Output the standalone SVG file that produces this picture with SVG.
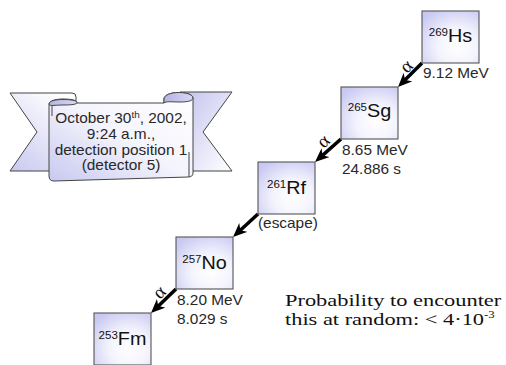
<svg xmlns="http://www.w3.org/2000/svg" width="506" height="365" viewBox="0 0 506 365">
<style>
.box{fill:url(#boxGrad);stroke:#555;stroke-width:1.1}
.nuc{font-family:"Liberation Sans",Arial,sans-serif;font-size:18px;fill:#111;text-anchor:middle}
.sup{font-size:10.5px}
.lbl{font-family:"Liberation Sans",Arial,sans-serif;font-size:14px;fill:#282828}
.bt{font-family:"Liberation Sans",Arial,sans-serif;font-size:14px;fill:#282828;text-anchor:middle}
.alpha{font-family:"Liberation Serif","Times New Roman",serif;font-size:19px;fill:#111;text-anchor:middle;dominant-baseline:central}
.prob{font-family:"Liberation Serif","Times New Roman",serif;font-size:17.5px;fill:#111}
.arr{stroke:#000;stroke-width:3.5;fill:none;marker-end:url(#ah)}
.edge{stroke:#444;stroke-width:1;stroke-linejoin:round}
</style>
<defs>
<radialGradient id="boxGrad" cx="0.62" cy="0.68" r="0.8">
<stop offset="0" stop-color="#ffffff"/>
<stop offset="0.45" stop-color="#f3f3fd"/>
<stop offset="1" stop-color="#c8c8f2"/>
</radialGradient>
<linearGradient id="panelGrad" x1="0" y1="1" x2="1" y2="0">
<stop offset="0" stop-color="#c8c8f0"/>
<stop offset="0.5" stop-color="#f4f4fd"/>
<stop offset="1" stop-color="#ffffff"/>
</linearGradient>
<linearGradient id="ltGrad" x1="0" y1="1" x2="0.7" y2="0">
<stop offset="0" stop-color="#c8c8f0"/>
<stop offset="1" stop-color="#ffffff"/>
</linearGradient>
<linearGradient id="rtGrad" x1="0" y1="0" x2="1" y2="1">
<stop offset="0" stop-color="#c2c2ee"/>
<stop offset="1" stop-color="#ffffff"/>
</linearGradient>
<linearGradient id="rollGrad" x1="0" y1="0" x2="1" y2="0">
<stop offset="0" stop-color="#b4b4e4"/>
<stop offset="1" stop-color="#d8d8f4"/>
</linearGradient>
<marker id="ah" markerUnits="userSpaceOnUse" viewBox="0 0 14 12" markerWidth="14" markerHeight="12" refX="7" refY="6" orient="auto">
<path d="M0,0 L14,6 L0,12 L4,6 Z" fill="#000"/>
</marker>
</defs>

<g id="banner">
<path class="edge" fill="url(#ltGrad)" d="M10,93 L72,93 Q76,93 76,97 L76,171 L10,171 L37,132 Z"/>
<path class="edge" fill="url(#rtGrad)" d="M180,92 L232,92 L203,132 L232,171 L185,171 Z"/>
<path class="edge" fill="url(#panelGrad)" d="M49,105 C49,101 55,99 63,99 C71,99 77,100 77,103 L164,103 L164,99 C164,95 171,92.5 178.5,92.5 C186,92.5 193,94.5 193,98 L193,173 Q193,177 188,177 L54,181 Q49,181 49,176 Z"/>
<path class="edge" fill="url(#rollGrad)" d="M49,104 C49,101 55,99.5 63,99.5 C71,99.5 77,100.5 77,102.5 C77,104.5 71,105 63,105 C55,105 49,106.5 49,104 Z"/>
<path class="edge" fill="url(#rollGrad)" d="M164,103 L164,99 C164,95 171,92.5 178.5,92.5 C186,92.5 193,94.5 193,98 C193,101 187,102 180,102 C172,102 166,101 164,103 Z"/>
<path class="edge" fill="none" d="M189,152 L189,177"/>
<path class="edge" fill="none" d="M52,106 L52,116"/>
<text class="bt" transform="translate(121,123) scale(1.1,1)">October 30<tspan font-size="9" dy="-5">th</tspan><tspan dy="5">, 2002,</tspan></text>
<text class="bt" transform="translate(121,138.5) scale(1.1,1)">9:24 a.m.,</text>
<text class="bt" transform="translate(121,154.5) scale(1.1,1)">detection position 1</text>
<text class="bt" transform="translate(121,169.5) scale(1.1,1)">(detector 5)</text>
</g>

<g id="connectors">
<line class="arr" x1="422" y1="63" x2="402.95" y2="82.05"/>
<line class="arr" x1="341" y1="139" x2="320.24" y2="157.36"/>
<line class="arr" x1="258" y1="214" x2="238.15" y2="232.26"/>
<line class="arr" x1="176" y1="289" x2="156.05" y2="308.15"/>
<text class="alpha" transform="translate(406,66) rotate(-45)">α</text>
<text class="alpha" transform="translate(323,141) rotate(-45)">α</text>
<text class="alpha" transform="translate(159,292) rotate(-45)">α</text>
</g>

<g id="n269Hs">
<rect class="box" x="422" y="11" width="57" height="52"/>
<text class="nuc" transform="translate(450.5,42) scale(1.1,1)"><tspan class="sup" dy="-6.5">269</tspan><tspan dy="6.5">Hs</tspan></text>
<text class="lbl" transform="translate(423,78) scale(1.1,1)">9.12 MeV</text>
</g>

<g id="n265Sg">
<rect class="box" x="341" y="87" width="57" height="52"/>
<text class="nuc" transform="translate(369.5,117) scale(1.1,1)"><tspan class="sup" dy="-6.5">265</tspan><tspan dy="6.5">Sg</tspan></text>
<text class="lbl" transform="translate(342,155) scale(1.1,1)">8.65 MeV</text>
<text class="lbl" transform="translate(342,174) scale(1.1,1)">24.886 s</text>
</g>

<g id="n261Rf">
<rect class="box" x="258" y="162" width="57" height="52"/>
<text class="nuc" transform="translate(286.5,194) scale(1.1,1)"><tspan class="sup" dy="-6.5">261</tspan><tspan dy="6.5">Rf</tspan></text>
<text class="lbl" transform="translate(258,228) scale(1.1,1)">(escape)</text>
</g>

<g id="n257No">
<rect class="box" x="176" y="237" width="57" height="52"/>
<text class="nuc" transform="translate(204.5,269) scale(1.1,1)"><tspan class="sup" dy="-6.5">257</tspan><tspan dy="6.5">No</tspan></text>
<text class="lbl" transform="translate(177,305) scale(1.1,1)">8.20 MeV</text>
<text class="lbl" transform="translate(177,324) scale(1.1,1)">8.029 s</text>
</g>

<g id="n253Fm">
<rect class="box" x="94" y="313" width="57" height="52"/>
<text class="nuc" transform="translate(122.5,345) scale(1.1,1)"><tspan class="sup" dy="-6.5">253</tspan><tspan dy="6.5">Fm</tspan></text>
</g>

<g id="note">
<text class="prob" transform="translate(285,306) scale(1.28,1)">Probability to encounter</text>
<text class="prob" transform="translate(285,325) scale(1.28,1)">this at random: &lt; 4·10<tspan font-size="10" dy="-7">-3</tspan></text>
</g>
</svg>
